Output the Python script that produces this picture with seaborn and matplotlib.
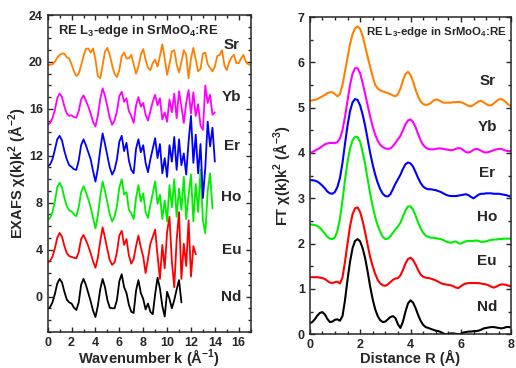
import matplotlib
matplotlib.use("Agg")
import matplotlib.pyplot as plt
import numpy as np
import pandas as pd
import seaborn as sns
from matplotlib.ticker import MultipleLocator

# EXAFS chi(k)k^2, values relative to the stacking offset, k grid step 0.2
samples = ["Nd", "Eu", "Ho", "Er", "Yb", "Sr"]
offsets = [0, 4, 8, 12, 16, 20]
colors = ["black", "#ff0000", "#00ee00", "#0000ff", "#ff00ff", "#ff8000"]

nd_exafs = [-1.05, -0.9, -0.5, 0.2, 1.1, 1.5, 1.2, 0.4, -0.25, -0.5, -0.6, -0.95, -1.15, -0.5, 1.0, 1.5,
            1.0, 0.3, -0.4, -1.2, -1.75, -0.8, 0.6, 1.5, 0.8, -0.3, -0.95, -1.0, -1.0, -0.3, 1.3, 1.9,
            0.8, 0.3, -0.7, -1.3, -1.4, 0.5, 1.4, 0.3, -0.2, -1.1, -0.6, -1.3, -1.5, 0.2, 1.6, 0.7,
            -0.8, -1.7, 0.4, -0.2, -1.0, -0.3, 0.6, 1.4, -0.5]
eu_exafs = [-1.08, -0.95, -0.6, 0.1, 1.0, 1.42, 1.1, 0.3, -0.3, -0.55, -0.62, -0.7, -0.75, -0.2, 0.9, 1.25,
            0.8, 0.3, -0.3, -1.0, -1.55, -0.7, 0.7, 1.9, 1.0, 0.0, -0.9, -1.3, -1.1, -0.2, 1.2, 1.6,
            0.4, 0.9, -0.5, -1.2, -0.8, 0.3, 1.2, 0.2, -0.6, -2.0, -0.8, 0.5, 1.1, 1.7, -0.5, -2.5,
            0.4, -1.6, 1.5, 2.8, -1.0, -3.2, 0.8, 3.2, -2.5, 0.5, -1.4, 2.5, -2.3, 0.3, -0.4]
ho_exafs = [-1.45, -1.3, -0.8, 0.1, 1.3, 1.7, 1.3, 0.4, -0.3, -0.65, -0.75, -1.0, -1.15, -0.4, 0.9, 1.4,
            0.9, 0.3, -0.4, -1.3, -2.2, -1.1, 0.5, 1.8, 1.0, 0.0, -1.0, -1.6, -1.2, -0.3, 1.3, 2.0,
            0.7, 0.9, -0.6, -0.9, -1.4, 0.4, 1.5, 0.1, 0.8, -0.8, -1.3, -0.2, 0.8, 1.8, -0.1, 0.7,
            -1.4, 0.2, -1.6, 1.5, -0.4, 2.0, -1.2, 1.2, -0.6, 2.2, -1.4, 0.6, 2.4, -1.6, 1.6, -0.8,
            2.8, -1.5, -2.6, 1.0, 2.5, -0.5]
er_exafs = [-0.9, -0.75, -0.3, 0.5, 1.4, 1.7, 1.3, 0.4, -0.3, -0.8, -0.95, -1.15, -1.2, -0.4, 0.9, 1.4,
            0.9, 0.3, -0.3, -1.3, -2.2, -1.1, 0.5, 1.9, 1.0, 0.0, -1.0, -1.6, -1.2, -0.3, 1.2, 1.7,
            0.4, 1.1, -0.4, -1.2, -1.5, 0.6, 1.4, 0.3, 0.9, -0.6, -1.4, -0.3, 0.6, 1.5, -0.2, 1.0,
            -1.5, -0.2, -1.8, 0.9, -0.5, 1.6, -1.2, 1.4, -0.8, 0.2, -1.6, 1.2, 3.4, -0.6, 1.8, -1.5,
            1.0, -3.6, -1.0, 2.9, 0.8, 2.4, -0.5]
yb_exafs = [-1.36, -1.2, -0.8, -0.1, 0.9, 1.3, 1.0, 0.2, -0.4, -0.6, -0.55, -0.7, -0.75, -0.2, 0.8, 1.15,
            0.7, 0.2, -0.4, -1.1, -1.5, -0.6, 0.8, 1.75, 1.1, 0.2, -0.8, -1.35, -1.0, -0.2, 1.1, 1.45,
            0.6, 0.9, -0.2, -0.6, -1.2, 0.3, 1.0, 0.2, 0.5, -0.5, -1.0, -0.2, 0.6, 1.2, 0.3, 0.9,
            -0.9, -0.3, -1.1, 0.8, -0.3, 1.3, -0.8, 1.5, 0.2, -1.2, 0.5, 1.6, -0.4, 1.4, -0.6, 0.4,
            -1.4, -1.8, 2.0, 0.5, 1.2, -0.5, -0.3]
sr_exafs = [-0.26, -0.25, -0.2, 0.0, 0.35, 0.6, 0.72, 0.7, 0.4, 0.3, -0.2, -0.8, -1.2, -1.0, -0.3, 0.5,
            1.1, 1.15, 0.8, 1.15, 0.2, -1.2, -1.4, -0.3, 0.9, 1.2, 0.6, -0.3, -1.0, -1.3, -0.7, 0.5,
            0.8, 0.3, 0.3, 0.6, -0.2, -1.0, -0.4, 0.6, 1.1, 0.2, -0.5, -0.7, -0.1, 0.2, -0.4, 0.5,
            1.5, 0.3, -1.1, -0.2, 0.9, 1.0, -0.2, -0.9, 0.0, 1.0, 0.6, -1.4, 0.3, 1.2, 0.2, -0.8,
            -0.6, 0.7, 0.8, -0.2, -0.5, -0.8, -0.4, 0.5, 0.6, 1.0, -0.3, -0.7, 0.0, 0.4, 0.6, -0.1,
            -0.1, 0.3, 0.6, 0.0, -0.2, -0.25]
exafs = [nd_exafs, eu_exafs, ho_exafs, er_exafs, yb_exafs, sr_exafs]

# FT magnitude (already stacked), R grid step 0.1 from 0 to 8
nd_ft = [0.24, 0.27, 0.33, 0.41, 0.47, 0.49, 0.44, 0.34, 0.27, 0.28,
         0.32, 0.33, 0.3, 0.4, 0.75, 1.2, 1.6, 1.9, 2.06, 2.1,
         2.05, 1.9, 1.68, 1.38, 1.05, 0.77, 0.55, 0.4, 0.31, 0.27,
         0.28, 0.33, 0.38, 0.4, 0.36, 0.22, 0.14, 0.28, 0.5, 0.68,
         0.75, 0.7, 0.58, 0.43, 0.3, 0.21, 0.16, 0.14, 0.12, 0.1,
         0.08, 0.07, 0.05, 0.02, 0.0, 0.01, 0.02, 0.02, 0.01, 0.0,
         0.01, 0.04, 0.05, 0.06, 0.06, 0.07, 0.07, 0.08, 0.1, 0.13,
         0.14, 0.15, 0.16, 0.16, 0.15, 0.14, 0.13, 0.14, 0.16, 0.16,
         0.15]
eu_ft = [1.26, 1.26, 1.26, 1.26, 1.25, 1.24, 1.22, 1.18, 1.14, 1.13,
         1.15, 1.16, 1.12, 1.25, 1.6, 2.0, 2.38, 2.65, 2.78, 2.8,
         2.7, 2.5, 2.25, 1.97, 1.7, 1.5, 1.33, 1.2, 1.12, 1.08,
         1.07, 1.1, 1.15, 1.2, 1.23, 1.24, 1.3, 1.42, 1.56, 1.66,
         1.69, 1.64, 1.54, 1.42, 1.32, 1.27, 1.25, 1.24, 1.23, 1.21,
         1.19, 1.16, 1.13, 1.11, 1.1, 1.09, 1.08, 1.06, 1.03, 1.02,
         1.06, 1.1, 1.12, 1.13, 1.13, 1.13, 1.13, 1.13, 1.12, 1.11,
         1.1, 1.08, 1.05, 1.03, 1.05, 1.08, 1.1, 1.1, 1.09, 1.07,
         1.06]
ho_ft = [2.42, 2.42, 2.41, 2.39, 2.35, 2.29, 2.22, 2.15, 2.11, 2.1,
         2.14, 2.28, 2.55, 2.95, 3.4, 3.8, 4.1, 4.28, 4.36, 4.35,
         4.25, 4.02, 3.75, 3.42, 3.1, 2.82, 2.58, 2.4, 2.26, 2.15,
         2.1, 2.11, 2.16, 2.24, 2.31, 2.38, 2.46, 2.6, 2.73, 2.82,
         2.82, 2.75, 2.62, 2.47, 2.34, 2.24, 2.18, 2.15, 2.13, 2.13,
         2.12, 2.11, 2.1, 2.08, 2.05, 2.03, 2.02, 2.04, 2.05, 2.01,
         2.0, 2.03, 2.05, 2.06, 2.06, 2.06, 2.07, 2.06, 2.04, 2.04,
         2.05, 2.07, 2.08, 2.09, 2.09, 2.1, 2.1, 2.11, 2.11, 2.11,
         2.11]
er_ft = [3.4, 3.4, 3.39, 3.37, 3.33, 3.28, 3.22, 3.15, 3.11, 3.1,
         3.14, 3.25, 3.45, 3.78, 4.2, 4.6, 4.92, 5.12, 5.19, 5.17,
         5.05, 4.85, 4.6, 4.3, 4.0, 3.74, 3.52, 3.34, 3.2, 3.1,
         3.05, 3.04, 3.09, 3.2, 3.32, 3.42, 3.52, 3.65, 3.75, 3.79,
         3.77, 3.7, 3.58, 3.45, 3.34, 3.26, 3.22, 3.2, 3.2, 3.19,
         3.18, 3.16, 3.14, 3.11, 3.08, 3.06, 3.05, 3.05, 3.05, 3.06,
         3.07, 3.08, 3.09, 3.07, 3.03, 3.0, 3.04, 3.08, 3.1, 3.1,
         3.11, 3.11, 3.11, 3.1, 3.1, 3.1, 3.09, 3.08, 3.07, 3.05,
         3.04]
yb_ft = [4.0, 4.02, 4.05, 4.08, 4.11, 4.15, 4.19, 4.21, 4.22, 4.22,
         4.22, 4.24, 4.32, 4.5, 4.8, 5.15, 5.5, 5.75, 5.87, 5.87,
         5.76, 5.55, 5.3, 5.05, 4.8, 4.58, 4.4, 4.27, 4.18, 4.13,
         4.1, 4.09, 4.1, 4.15, 4.22, 4.3, 4.38, 4.5, 4.63, 4.72,
         4.74, 4.68, 4.57, 4.42, 4.28, 4.18, 4.12, 4.09, 4.08, 4.08,
         4.09, 4.1, 4.1, 4.09, 4.08, 4.07, 4.06, 4.07, 4.09, 4.11,
         4.1, 4.06, 4.02, 4.01, 4.03, 4.07, 4.09, 4.08, 4.05, 4.02,
         4.01, 4.02, 4.04, 4.06, 4.08, 4.09, 4.09, 4.07, 4.05, 4.04,
         4.04]
sr_ft = [5.15, 5.16, 5.17, 5.19, 5.22, 5.25, 5.28, 5.32, 5.34, 5.34,
         5.3, 5.25, 5.3, 5.5, 5.8, 6.1, 6.4, 6.62, 6.75, 6.79,
         6.74, 6.58, 6.35, 6.12, 5.9, 5.68, 5.5, 5.42, 5.38, 5.36,
         5.34, 5.32, 5.3, 5.27, 5.25, 5.3, 5.42, 5.6, 5.74, 5.79,
         5.72, 5.58, 5.4, 5.25, 5.14, 5.08, 5.06, 5.07, 5.1, 5.15,
         5.18, 5.17, 5.14, 5.11, 5.11, 5.11, 5.11, 5.12, 5.12, 5.13,
         5.12, 5.1, 5.07, 5.04, 5.03, 5.06, 5.1, 5.14, 5.15, 5.12,
         5.08, 5.05, 5.05, 5.09, 5.14, 5.18, 5.19, 5.16, 5.11, 5.06,
         5.03]
ft = [nd_ft, eu_ft, ho_ft, er_ft, yb_ft, sr_ft]

exafs_label_y = [0.0, 4.0, 8.5, 12.8, 17.0, 21.45]
ft_label_y = [0.6, 1.61, 2.59, 3.56, 4.57, 5.59]

rows = []
for name, off, vals in zip(samples, offsets, exafs):
    k = np.round(np.arange(len(vals)) * 0.2, 2)
    rows.append(pd.DataFrame({"k": k, "chi": np.array(vals) + off, "sample": name}))
df_k = pd.concat(rows, ignore_index=True)

rows = []
for name, vals in zip(samples, ft):
    r = np.round(np.arange(len(vals)) * 0.1, 2)
    rows.append(pd.DataFrame({"R": r, "ft": vals, "sample": name}))
df_r = pd.concat(rows, ignore_index=True)

sns.set_style("ticks")
plt.rcParams["font.family"] = ["Liberation Sans", "DejaVu Sans"]
plt.rcParams["font.weight"] = "bold"
plt.rcParams["mathtext.fontset"] = "custom"
plt.rcParams["mathtext.rm"] = "Liberation Sans:bold"
plt.rcParams["mathtext.bf"] = "Liberation Sans:bold"
plt.rcParams["mathtext.it"] = "Liberation Sans:bold"
plt.rcParams["mathtext.default"] = "bf"

palette = dict(zip(samples, colors))

fig = plt.figure(figsize=(5.16, 3.68), dpi=100)
ax1 = fig.add_axes([0.0924, 0.0986, 0.3934, 0.8606])
ax2 = fig.add_axes([0.6002, 0.0916, 0.3907, 0.8622])

sns.lineplot(data=df_k, x="k", y="chi", hue="sample", palette=palette,
             lw=1.3, legend=False, ax=ax1, sort=False)
sns.lineplot(data=df_r, x="R", y="ft", hue="sample", palette=palette,
             lw=1.5, legend=False, ax=ax2, sort=False)

ax1.set_xlim(0, 17)
ax1.set_ylim(-3, 24)
ax1.xaxis.set_major_locator(MultipleLocator(2))
ax1.xaxis.set_minor_locator(MultipleLocator(1))
ax1.yaxis.set_major_locator(MultipleLocator(4))
ax1.yaxis.set_minor_locator(MultipleLocator(1))
ax1.set_xlabel("Wavenumber k (Å$^{-1}$)", fontsize=10.5, fontweight="bold", labelpad=-1)
ax1.set_ylabel("EXAFS χ(k)k$^{2}$ (Å$^{-2}$)", fontsize=10.5, fontweight="bold", labelpad=1)
ax1.text(0.85, 22.6, "RE L$_3$-edge in SrMoO$_4$:RE", fontsize=9.4, fontweight="bold", va="center")
for name, y in zip(samples, exafs_label_y):
    ax1.text(15.4, y, name, fontsize=11, fontweight="bold", va="center", ha="center")

ax2.set_xlim(0, 8)
ax2.set_ylim(0, 7)
ax2.xaxis.set_major_locator(MultipleLocator(2))
ax2.xaxis.set_minor_locator(MultipleLocator(0.5))
ax2.yaxis.set_major_locator(MultipleLocator(1))
ax2.yaxis.set_minor_locator(MultipleLocator(0.5))
ax2.set_xlabel("Distance R (Å)", fontsize=10.5, fontweight="bold", labelpad=-1)
ax2.set_ylabel("FT χ(k)k$^{2}$ (Å$^{-3}$)", fontsize=10.5, fontweight="bold", labelpad=4)
ax2.text(2.25, 6.68, "RE L$_3$-edge in SrMoO$_4$:RE", fontsize=8.2, fontweight="bold", va="center")
for name, y in zip(samples, ft_label_y):
    ax2.text(7.04, y, name, fontsize=11, fontweight="bold", va="center", ha="center")

for ax in (ax1, ax2):
    for s in ax.spines.values():
        s.set_linewidth(1.1)
        s.set_visible(True)
    ax.tick_params(which="both", direction="in", top=True, right=True, width=1.0, labelsize=9)
    ax.tick_params(which="major", length=3.5)
    ax.tick_params(which="minor", length=2)
    for lab in ax.get_xticklabels() + ax.get_yticklabels():
        lab.set_fontweight("bold")

fig.savefig("out.png", dpi=100)
